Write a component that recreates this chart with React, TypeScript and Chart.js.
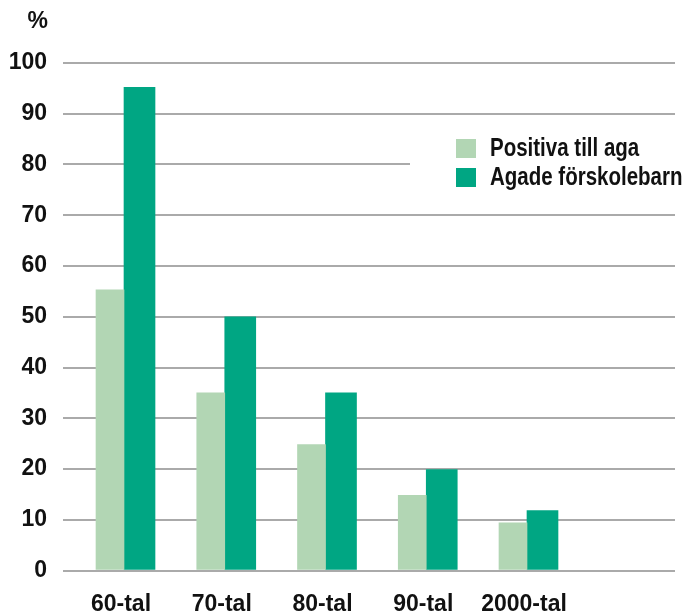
import React, { useEffect, useRef } from "react";
import { Chart, registerables } from "chart.js";

Chart.register(...registerables);

const categories = ["60-tal", "70-tal", "80-tal", "90-tal", "2000-tal"];
const positivaTillAga = [55.3, 35, 24.8, 14.8, 9.4];
const agadeForskolebarn = [95.2, 50, 35, 19.9, 11.8];
const seriesLabels = ["Positiva till aga", "Agade förskolebarn"];
const seriesColors = ["#b2d6b4", "#00a683"];
const yTicks = [0, 10, 20, 30, 40, 50, 60, 70, 80, 90, 100];

const AXIS_FONT = { family: '"Liberation Sans", Arial, sans-serif', size: 23, weight: "bold" as const };

const overlayPlugin = {
  id: "overlay",
  afterDraw(chart: any) {
    const ctx = chart.ctx;
    ctx.save();
    // percent unit label
    ctx.fillStyle = "#111";
    ctx.font = 'bold 23px "Liberation Sans", Arial, sans-serif';
    ctx.textAlign = "right";
    ctx.textBaseline = "middle";
    ctx.fillText("%", 48, 22);
    // legend with white backing
    ctx.fillStyle = "#ffffff";
    ctx.fillRect(410, 128, 273, 76);
    ctx.font = 'bold 25px "Liberation Sans", Arial, sans-serif';
    ctx.textAlign = "left";
    chart.data.datasets.forEach((ds: any, i: number) => {
      const y = 139 + i * 29;
      ctx.fillStyle = ds.backgroundColor;
      ctx.fillRect(456, y, 20, 19);
      ctx.save();
      ctx.translate(490, y + 10);
      ctx.scale(0.82, 1);
      ctx.fillStyle = "#111";
      ctx.fillText(ds.label, 0, 0);
      ctx.restore();
    });
    ctx.restore();
  },
};

export default function App() {
  const ref = useRef<HTMLCanvasElement | null>(null);
  useEffect(() => {
    if (!ref.current) return;
    const chart = new Chart(ref.current, {
      type: "bar",
      data: {
        datasets: [
          {
            label: seriesLabels[0],
            data: positivaTillAga.map((v, i) => ({ x: i, y: v })),
            backgroundColor: seriesColors[0],
            barThickness: 28,
          },
          {
            label: seriesLabels[1],
            data: agadeForskolebarn.map((v, i) => ({ x: i, y: v })),
            backgroundColor: seriesColors[1],
            barThickness: 31,
          },
        ],
      },
      options: {
        animation: false,
        responsive: true,
        maintainAspectRatio: false,
        layout: { padding: { top: 63, right: 8, left: 0, bottom: 0 } },
        plugins: { legend: { display: false }, tooltip: { enabled: false }, title: { display: false } },
        scales: {
          x: {
            type: "linear",
            offset: false,
            min: -0.6055,
            max: 5.469,
            grid: { display: false, drawTicks: false },
            border: { display: false },
            afterBuildTicks: (s: any) => {
              s.ticks = categories.map((_, i) => ({ value: i }));
            },
            afterFit: (s: any) => {
              s.height = 41.5;
            },
            ticks: {
              callback: (v: any) => categories[v] ?? "",
              font: AXIS_FONT,
              color: "#111",
              padding: 20,
              labelOffset: -3,
              maxRotation: 0,
              autoSkip: false,
            },
          },
          y: {
            min: 0,
            max: 100,
            afterBuildTicks: (s: any) => {
              s.ticks = yTicks.map((v) => ({ value: v }));
            },
            afterFit: (s: any) => {
              s.width = 63;
            },
            grid: { color: "#aaaaaa", lineWidth: 2, drawTicks: false },
            border: { display: false },
            ticks: {
              font: AXIS_FONT,
              color: "#111",
              padding: 16,
            },
          },
        },
      },
      plugins: [overlayPlugin],
    });
    return () => chart.destroy();
  }, []);
  return (
    <div style={{ position: "fixed", left: 0, top: 0, width: 683, height: 612 }}>
      <canvas ref={ref} />
    </div>
  );
}
